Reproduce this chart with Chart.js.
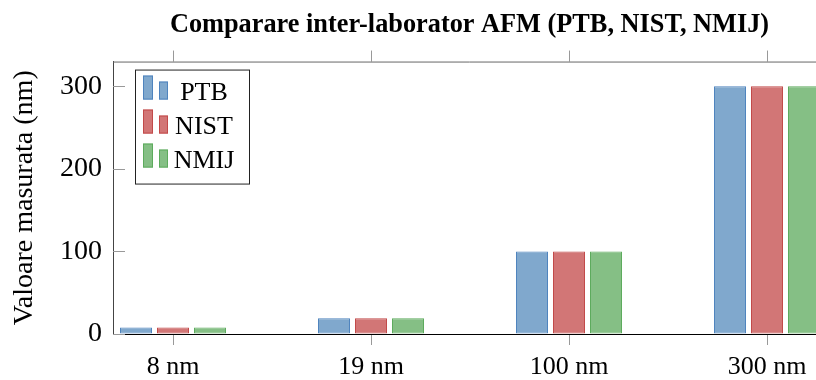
<!DOCTYPE html>
<html>
<head>
<meta charset="utf-8">
<script src="https://cdn.jsdelivr.net/npm/chart.js@4.4.1/dist/chart.umd.min.js"></script>
<style>
  html, body { margin: 0; padding: 0; background: #fff; overflow: hidden; }
  #wrap { width: 830px; height: 380px; }
</style>
</head>
<body>
<div id="wrap"><canvas id="myChart" width="830" height="380"></canvas></div>
<script>
const categories = ['8 nm', '19 nm', '100 nm', '300 nm']
const ptbValues = [8, 19, 100, 300]
const nistValues = [8, 19, 100, 300]
const nmijValues = [8, 19, 100, 300]
const yTicks = [0, 100, 200, 300]

const serif = '"Liberation Serif", "Times New Roman", serif'

const toPoints = vals => vals.map((v, i) => ({x: i, y: v}))

// legend drawn like the pgfplots ybar legend: two small bars + centered label
const barLegend = {
    id: 'barLegend',
    afterDraw(chart) {
        const {ctx, chartArea} = chart
        const x0 = chartArea.left + 22, y0 = chartArea.top + 8
        const w = 114, h = 114, rowH = 34
        ctx.save()
        ctx.fillStyle = '#fff'
        ctx.fillRect(x0, y0, w, h)
        ctx.strokeStyle = '#222'
        ctx.lineWidth = 1
        ctx.strokeRect(x0 + 0.5, y0 + 0.5, w, h)
        ctx.font = '26px ' + serif
        ctx.textAlign = 'center'
        ctx.textBaseline = 'alphabetic'
        chart.data.datasets.forEach((ds, i) => {
            const base = y0 + 30 + i * rowH
            ctx.fillStyle = ds.backgroundColor
            ctx.strokeStyle = ds.borderColor
            ctx.fillRect(x0 + 8, base - 24, 10, 24)
            ctx.strokeRect(x0 + 8.5, base - 23.5, 9, 23)
            ctx.fillRect(x0 + 24, base - 18, 9, 18)
            ctx.strokeRect(x0 + 24.5, base - 17.5, 8, 17)
            ctx.fillStyle = '#000'
            ctx.fillText(ds.label, x0 + 69, base)
        })
        ctx.restore()
    }
}

// top frame line, top x ticks and inward y ticks
const frame = {
    id: 'frame',
    beforeDatasetsDraw(chart) {
        const {ctx, chartArea, scales} = chart
        ctx.save()
        ctx.lineWidth = 1
        ctx.strokeStyle = '#999'
        scales.x.ticks.forEach(t => {
            const px = Math.round(scales.x.getPixelForValue(t.value)) + 0.5
            ctx.beginPath()
            ctx.moveTo(px, chartArea.top - 11)
            ctx.lineTo(px, chartArea.top)
            ctx.stroke()
        })
        scales.y.ticks.forEach(t => {
            const py = Math.round(scales.y.getPixelForValue(t.value)) + 0.5
            ctx.beginPath()
            ctx.moveTo(chartArea.left, py)
            ctx.lineTo(chartArea.left + 12, py)
            ctx.stroke()
        })
        ctx.strokeStyle = '#666'
        ctx.beginPath()
        ctx.moveTo(chartArea.left, chartArea.top + 0.5)
        ctx.lineTo(chartArea.right, chartArea.top + 0.5)
        ctx.stroke()
        ctx.restore()
    }
}

const ctx = document.getElementById('myChart').getContext('2d')

const chart = new Chart(ctx, {
    type: 'bar',
    data: {
        datasets: [
            {label: 'PTB', data: toPoints(ptbValues), backgroundColor: '#80a8cd', borderColor: '#4f84be', borderWidth: 1, borderSkipped: false, inflateAmount: 0},
            {label: 'NIST', data: toPoints(nistValues), backgroundColor: '#d27676', borderColor: '#c24a4a', borderWidth: 1, borderSkipped: false, inflateAmount: 0},
            {label: 'NMIJ', data: toPoints(nmijValues), backgroundColor: '#85bf85', borderColor: '#5dab5d', borderWidth: 1, borderSkipped: false, inflateAmount: 0}
        ]
    },
    options: {
        responsive: false,
        animation: false,
        events: [],
        categoryPercentage: 111 / 198,
        barPercentage: 32 / 37,
        layout: {padding: {left: 0, right: 4, top: 0, bottom: 0}},
        plugins: {
            legend: {display: false},
            tooltip: {enabled: false},
            title: {
                display: true,
                fullSize: false,
                text: 'Comparare inter-laborator AFM (PTB, NIST, NMIJ)',
                color: '#000',
                font: {family: serif, size: 26.3, weight: 'bold'},
                padding: {top: 9, bottom: 21}
            }
        },
        scales: {
            x: {
                type: 'linear',
                offset: false,
                min: -60 / 198,
                max: 653 / 198,
                afterBuildTicks: s => { s.ticks = categories.map((c, i) => ({value: i})) },
                afterFit: s => { s.height = 46 },
                ticks: {
                    callback: v => categories[v],
                    color: '#000',
                    font: {family: serif, size: 26},
                    padding: 7,
                    maxRotation: 0,
                    autoSkip: false
                },
                grid: {offset: false, drawOnChartArea: false, drawTicks: true, tickLength: 11, color: '#999'},
                border: {color: '#000', width: 1}
            },
            y: {
                min: 0,
                max: 330,
                afterBuildTicks: s => { s.ticks = yTicks.map(v => ({value: v})) },
                afterFit: s => { s.width = 113 },
                ticks: {
                    color: '#000',
                    font: {family: serif, size: 28},
                    padding: 11
                },
                grid: {drawOnChartArea: false, drawTicks: false},
                border: {color: '#444', width: 1},
                title: {
                    display: true,
                    text: 'Valoare masurata (nm)',
                    color: '#000',
                    font: {family: serif, size: 28},
                    padding: {top: 8, bottom: 0}
                }
            }
        }
    },
    plugins: [frame, barLegend]
})
</script>
</body>
</html>
